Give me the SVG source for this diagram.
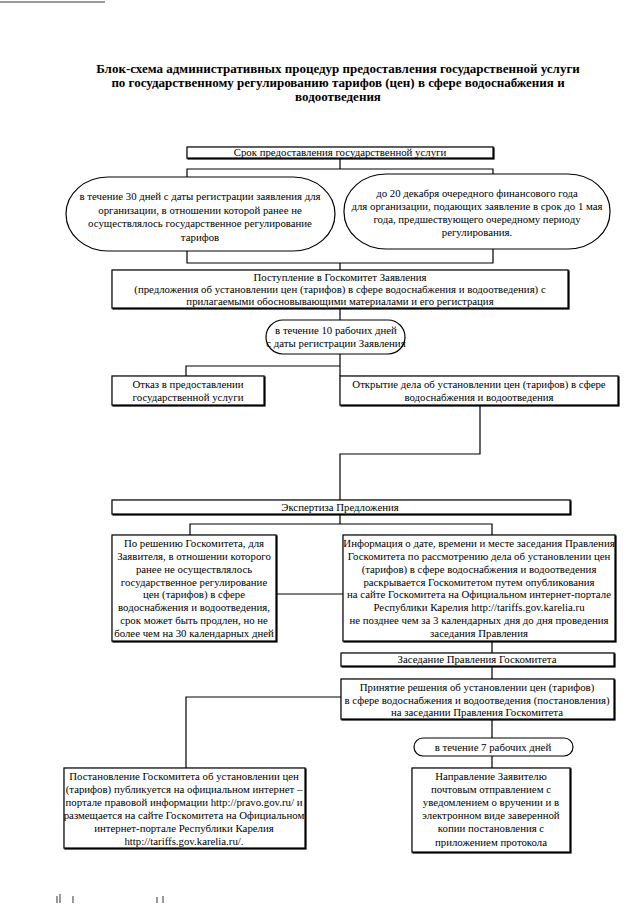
<svg xmlns="http://www.w3.org/2000/svg" width="640" height="905" viewBox="0 0 640 905">
<style>
.bg{fill:#fff}
.box{fill:#fff;stroke:#000;stroke-width:1.2;filter:url(#sh)}
.oval{fill:#fff;stroke:#000;stroke-width:1.2}
text{font-family:'Liberation Serif','DejaVu Serif','Noto Serif',serif;fill:#000;text-anchor:middle}
.t{font-size:10.8px}
.title{font-size:13px;font-weight:bold}
.c{fill:none;stroke:#000;stroke-width:1.2}
.art{stroke:#777;stroke-width:1.5}
</style>
<defs>
<filter id="sh" x="-5%" y="-5%" width="110%" height="120%">
<feOffset in="SourceAlpha" dx="0.8" dy="0.8" result="o"/>
<feMerge><feMergeNode in="o"/><feMergeNode in="SourceGraphic"/></feMerge>
</filter>
</defs>
<rect class="bg" x="0" y="0" width="640" height="905"/>
<line class="art" x1="0" y1="2" x2="105" y2="2"/>
<g id="title">
<text class="title" x="338" y="73">Блок-схема административных процедур предоставления государственной услуги</text>
<text class="title" x="338" y="87">по государственному регулированию тарифов (цен) в сфере водоснабжения и</text>
<text class="title" x="338" y="101">водоотведения</text>
</g>
<g id="connectors">
<path class="c" d="M340 158V169M187 177V169H493V174"/>
<path class="c" d="M187 251V263H493V249M340 263V270"/>
<path class="c" d="M340 308V320"/>
<path class="c" d="M340 354V376M340 366H186V376"/>
<path class="c" d="M480 405V454H340V500"/>
<path class="c" d="M340 514V524M190 535V524H492V535"/>
<path class="c" d="M276 594H343"/>
<path class="c" d="M492 641V653M492 666V679M492 719V738M492 756V768"/>
<path class="c" d="M341 697H186V768"/>
</g>
<g id="n1"><rect class="box" x="187" y="147" width="306" height="11"/><text class="t" x="340" y="156">Срок предоставления государственной услуги</text></g>
<g id="n2"><rect class="oval" x="66" y="177" width="269" height="74" rx="42" ry="37"/>
<text class="t" x="200" y="200">в течение 30 дней с даты регистрации заявления для</text>
<text class="t" x="200" y="213.5">организации, в отношении которой ранее не</text>
<text class="t" x="200" y="227">осуществлялось государственное регулирование</text>
<text class="t" x="200" y="240.5">тарифов</text></g>
<g id="n3"><rect class="oval" x="344" y="174" width="266" height="75" rx="42" ry="37"/>
<text class="t" x="477" y="197">до 20 декабря очередного финансового года</text>
<text class="t" x="477" y="210">для организации, подающих заявление в срок до 1 мая</text>
<text class="t" x="477" y="223">года, предшествующего очередному периоду</text>
<text class="t" x="477" y="236">регулирования.</text></g>
<g id="n4"><rect class="box" x="112" y="270" width="456" height="38"/>
<text class="t" x="340" y="281">Поступление в Госкомитет Заявления</text>
<text class="t" x="340" y="293">(предложения об установлении цен (тарифов) в сфере водоснабжения и водоотведения) с</text>
<text class="t" x="340" y="305">прилагаемыми обосновывающими материалами и его регистрация</text></g>
<g id="n5"><rect class="oval" x="266" y="320" width="139" height="34" rx="17" ry="17"/>
<text class="t" x="336" y="334">в течение 10 рабочих дней</text>
<text class="t" x="336" y="347">с даты регистрации Заявления</text></g>
<g id="n6"><rect class="box" x="112" y="376" width="152" height="29"/>
<text class="t" x="188" y="388">Отказ в предоставлении</text>
<text class="t" x="188" y="401">государственной услуги</text></g>
<g id="n7"><rect class="box" x="340" y="376" width="278" height="29"/>
<text class="t" x="479" y="388">Открытие дела об установлении цен (тарифов) в сфере</text>
<text class="t" x="479" y="401">водоснабжения и водоотведения</text></g>
<g id="n8"><rect class="box" x="112" y="500" width="458" height="14"/>
<text class="t" x="340" y="511">Экспертиза Предложения</text></g>
<g id="n9"><rect class="box" x="112" y="535" width="164" height="106"/>
<text class="t" x="194" y="547">По решению Госкомитета, для</text>
<text class="t" x="194" y="560">Заявителя, в отношении которого</text>
<text class="t" x="194" y="573">ранее не осуществлялось</text>
<text class="t" x="194" y="585.5">государственное регулирование</text>
<text class="t" x="194" y="598">цен (тарифов) в сфере</text>
<text class="t" x="194" y="611">водоснабжения и водоотведения,</text>
<text class="t" x="194" y="624">срок может быть продлен, но не</text>
<text class="t" x="194" y="637">более чем на 30 календарных дней</text></g>
<g id="n10"><rect class="box" x="343" y="535" width="272" height="106"/>
<text class="t" x="479" y="547">Информация о дате, времени и месте заседания Правления</text>
<text class="t" x="479" y="560">Госкомитета по рассмотрению дела об установлении цен</text>
<text class="t" x="479" y="573">(тарифов) в сфере водоснабжения и водоотведения</text>
<text class="t" x="479" y="585.5">раскрывается Госкомитетом путем опубликования</text>
<text class="t" x="479" y="598">на сайте Госкомитета на Официальном интернет-портале</text>
<text class="t" x="479" y="611">Республики Карелия http://tariffs.gov.karelia.ru</text>
<text class="t" x="479" y="624">не позднее чем за 3 календарных дня до дня проведения</text>
<text class="t" x="479" y="637">заседания Правления</text></g>
<g id="n11"><rect class="box" x="341" y="653" width="273" height="13"/>
<text class="t" x="477" y="663">Заседание Правления Госкомитета</text></g>
<g id="n12"><rect class="box" x="341" y="679" width="273" height="40"/>
<text class="t" x="477" y="691">Принятие решения об установлении цен (тарифов)</text>
<text class="t" x="477" y="703.5">в сфере водоснабжения и водоотведения (постановления)</text>
<text class="t" x="477" y="716">на заседании Правления Госкомитета</text></g>
<g id="n13"><rect class="oval" x="414" y="738" width="159" height="18" rx="9" ry="9"/>
<text class="t" x="493" y="751">в течение 7 рабочих дней</text></g>
<g id="n14"><rect class="box" x="64" y="768" width="241" height="80"/>
<text class="t" x="184" y="780">Постановление Госкомитета об установлении цен</text>
<text class="t" x="184" y="793">(тарифов) публикуется на официальном интернет –</text>
<text class="t" x="184" y="806">портале правовой информации http://pravo.gov.ru/ и</text>
<text class="t" x="184" y="819">размещается на сайте Госкомитета на Официальном</text>
<text class="t" x="184" y="832">интернет-портале Республики Карелия</text>
<text class="t" x="184" y="845">http://tariffs.gov.karelia.ru/.</text></g>
<g id="n15"><rect class="box" x="412" y="768" width="158" height="84"/>
<text class="t" x="491" y="780">Направление Заявителю</text>
<text class="t" x="491" y="793">почтовым отправлением с</text>
<text class="t" x="491" y="806">уведомлением о вручении и в</text>
<text class="t" x="491" y="819">электронном виде заверенной</text>
<text class="t" x="491" y="832">копии постановления с</text>
<text class="t" x="491" y="846">приложением протокола</text></g>
<g id="marks">
<line class="art" x1="57" y1="896" x2="57" y2="903"/>
<line class="art" x1="60" y1="894" x2="60" y2="903"/>
<line class="art" x1="73" y1="896" x2="73" y2="903"/>
<line class="art" x1="157" y1="897" x2="157" y2="903"/>
<line class="art" x1="163" y1="896" x2="163" y2="903"/>
</g>
</svg>
